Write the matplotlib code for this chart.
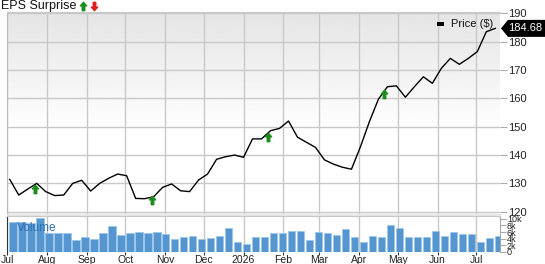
import matplotlib
matplotlib.use("Agg")
import matplotlib.pyplot as plt
import matplotlib.dates as mdates
import numpy as np
import pandas as pd
from matplotlib.path import Path
from matplotlib.patches import Polygon, Rectangle
from matplotlib.lines import Line2D


W, H = 545, 264

# weekly closing price ($), one point per week from early Jul 2025
price = [
	131.4, 125.9, 128.0, 130.0, 127.1, 125.7, 125.9, 130.0, 131.1, 127.3,
	130.0, 131.8, 133.3, 132.7, 124.7, 124.6, 125.3, 128.6, 129.8, 127.4,
	127.1, 131.2, 133.3, 138.5, 139.4, 140.0, 139.2, 145.7, 145.7, 148.6,
	149.4, 152.0, 146.3, 144.5, 142.7, 138.3, 136.8, 135.7, 135.0, 142.9,
	151.8, 159.7, 164.1, 164.4, 160.4, 164.1, 167.6, 165.3, 170.6, 174.1,
	172.0, 174.1, 176.5, 183.5, 184.68,
]

# weekly volume (thousands)
volume_k = [
	9.0, 9.0, 8.8, 10.2, 5.7, 5.8, 5.8, 3.6, 4.4, 4.0,
	5.6, 7.8, 5.2, 5.7, 5.9, 5.7, 6.0, 5.4, 4.0, 4.6,
	4.9, 3.9, 4.2, 4.9, 7.3, 2.9, 2.2, 4.4, 4.4, 5.6,
	5.6, 6.25, 6.25, 3.6, 5.9, 5.8, 5.0, 6.9, 4.4, 3.0,
	4.7, 4.4, 8.2, 7.1, 4.5, 4.5, 4.5, 6.25, 4.7, 6.0,
	5.4, 5.4, 3.0, 4.1, 4.8,
]

eps_dates = ["2025-07-23", "2025-10-22", "2026-01-20", "2026-04-20"]
eps_levels = [127.9, 124.0, 146.5, 161.7]

last_price = 184.68

price_ticks = [120, 130, 140, 150, 160, 170, 180, 190]
vol_ticks = [0, 2, 4, 6, 8, 10]
vol_tick_labels = ["0", "2k", "4k", "6k", "8k", "10k"]
month_labels = ["Jul", "Aug", "Sep", "Oct", "Nov", "Dec", "2026",
	"Feb", "Mar", "Apr", "May", "Jun", "Jul"]


def px_box(l, t, r, b):
	return [l / W, 1 - b / H, (r - l) / W, (b - t) / H]


def block_arrow(up=True):
	verts = [(0, 1), (0.75, 0.15), (0.3, 0.15), (0.3, -1), (-0.3, -1),
		(-0.3, 0.15), (-0.75, 0.15), (0, 1)]
	if not up:
		verts = [(x, -y) for x, y in verts]
	codes = [Path.MOVETO] + [Path.LINETO] * 6 + [Path.CLOSEPOLY]
	return Path(verts, codes)


plt.rcParams["font.family"] = ["Liberation Sans", "DejaVu Sans"]

week_dates = pd.date_range("2025-07-03", periods=len(price), freq="7D")
x_price = mdates.date2num(week_dates)
x_bars = x_price + 2.5
month_ticks = mdates.date2num(pd.date_range("2025-07-01", "2026-07-01", freq="MS"))
x0 = mdates.date2num(pd.Timestamp("2025-07-01")) - 0.15
x1 = x0 + 383.8

fig = plt.figure(figsize=(W / 100, H / 100), dpi=100)

# price panel
ax = fig.add_axes(px_box(7, 12, 500, 213.5))
grad = np.clip(0.895 + 0.105 * np.linspace(0, 1, 200) / 0.6, 0, 1).reshape(-1, 1)
ax.imshow(grad, extent=[0, 1, 0, 1], transform=ax.transAxes, aspect="auto",
	cmap="gray", vmin=0, vmax=1, zorder=0, origin="upper")
ax.plot(x_price, price, color="black", linewidth=1.0, zorder=3)
ax.plot(mdates.date2num(pd.to_datetime(eps_dates)), eps_levels,
	linestyle="none", marker=block_arrow(True), markersize=6,
	color="#1a8c1a", zorder=4)

ax.set_xlim(x0, x1)
ax.set_ylim(119.38, 190.46)
ax.set_xticks(month_ticks)
ax.set_yticks(price_ticks)
ax.yaxis.tick_right()
ax.tick_params(axis="x", length=0, labelbottom=False)
ax.tick_params(axis="y", length=5, color="#aaaaaa", labelsize=8,
	labelcolor="#222222", pad=1)
ax.set_axisbelow(True)
ax.grid(color="#c8c8c8", linewidth=1)
ax.spines["right"].set_visible(False)
ax.spines["left"].set_color("#bbbbbb")
ax.spines["top"].set_color("#c8c8c8")
ax.spines["bottom"].set_color("#c8c8c8")

# separator band between panels
fig.patches.append(Rectangle((7 / W, 1 - 216 / H), 493 / W, 2.5 / H,
	transform=fig.transFigure, facecolor="#e6e6e6", edgecolor="none"))

# volume panel
vax = fig.add_axes(px_box(7, 216, 500, 252))
vax.bar(x_bars, volume_k, width=5.7, color="#5596d0", edgecolor="#9cc6e8",
	linewidth=0.6, zorder=3)
vax.set_xlim(x0, x1)
vax.set_ylim(-0.15, 10.92)
vax.set_xticks(month_ticks)
vax.set_xticklabels(month_labels)
vax.set_yticks(vol_ticks)
vax.set_yticklabels(vol_tick_labels)
vax.yaxis.tick_right()
vax.tick_params(axis="x", length=2, color="#333333", labelsize=7.5, pad=0.5,
	labelcolor="#222222")
vax.tick_params(axis="y", length=4, color="#aaaaaa", labelsize=6.5, pad=1,
	labelcolor="#222222")
vax.set_axisbelow(True)
vax.grid(axis="x", color="#c8c8c8", linewidth=1)
vax.spines["bottom"].set_visible(False)
vax.spines["left"].set_color("#333333")
vax.spines["right"].set_color("#aaaaaa")
vax.spines["top"].set_color("#c8c8c8")
vax.text(0.02, 0.66, "Volume", transform=vax.transAxes, color="#2e70b4",
	fontsize=8.5, va="center", ha="left", zorder=5)

# title with arrows
fig.text(1 / W, 1 - 5.5 / H, "EPS Surprise", fontsize=9, va="center",
	ha="left", color="#111111")
fig.add_artist(Line2D([83 / W], [1 - 5.5 / H], transform=fig.transFigure,
	linestyle="none", marker=block_arrow(True), markersize=6, color="#1a8c1a"))
fig.add_artist(Line2D([94 / W], [1 - 5.5 / H], transform=fig.transFigure,
	linestyle="none", marker=block_arrow(False), markersize=6, color="#e01b1b"))

# legend
fig.patches.append(Rectangle((437 / W, 1 - 25.5 / H), 7 / W, 4 / H,
	transform=fig.transFigure, facecolor="black", edgecolor="none"))
fig.text(451 / W, 1 - 24 / H, "Price ($)", fontsize=8, va="center",
	ha="left", color="#111111")

# last price tag
y_tag = ax.transData.transform((x0, last_price))[1]
hh = 8.5
tag = [(501, y_tag), (508, y_tag + hh), (545, y_tag + hh),
	(545, y_tag - hh), (508, y_tag - hh)]
fig.patches.append(Polygon([(px / W, py / H) for px, py in tag], closed=True,
	transform=fig.transFigure, facecolor="black", edgecolor="none"))
fig.text(525 / W, y_tag / H, f"{last_price:.2f}", fontsize=8, color="white",
	va="center", ha="center")

fig.savefig("out.png", dpi=100)
plt.close(fig)
